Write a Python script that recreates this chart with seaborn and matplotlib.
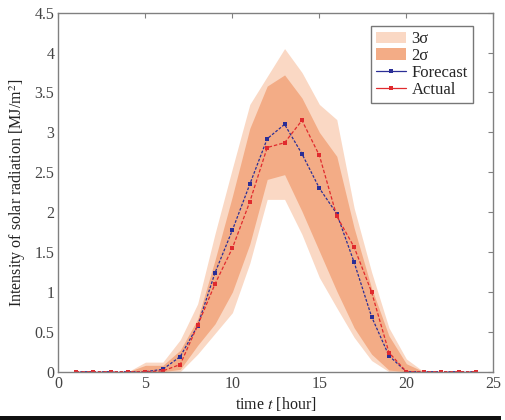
import numpy as np
import pandas as pd
import seaborn as sns
import matplotlib
matplotlib.use("Agg")
import matplotlib.pyplot as plt
from matplotlib.patches import Patch, Rectangle
from matplotlib.lines import Line2D

# ---- data ----
hours = list(range(1, 25))
forecast = [0, 0, 0, 0, 0, 0.03, 0.19, 0.575, 1.24, 1.775, 2.35, 2.92, 3.10, 2.73, 2.30, 1.98, 1.37, 0.69, 0.20, 0, 0, 0, 0, 0]
actual   = [0, 0, 0, 0, 0, 0.01, 0.09, 0.58, 1.10, 1.55, 2.13, 2.81, 2.87, 3.15, 2.71, 1.95, 1.56, 1.00, 0.24, 0, 0, 0, 0, 0]
s3_upper = [0, 0, 0, 0, 0.12, 0.12, 0.40, 0.85, 1.73, 2.55, 3.35, 3.70, 4.05, 3.75, 3.35, 3.16, 2.05, 1.25, 0.55, 0.16, 0, 0, 0, 0]
s2_upper = [0, 0, 0, 0, 0.08, 0.08, 0.27, 0.66, 1.40, 2.20, 3.05, 3.58, 3.72, 3.43, 3.00, 2.70, 1.80, 1.05, 0.45, 0.10, 0, 0, 0, 0]
s2_lower = [0, 0, 0, 0, 0, 0, 0.03, 0.33, 0.60, 1.00, 1.60, 2.41, 2.47, 2.01, 1.51, 1.01, 0.55, 0.22, 0.02, 0, 0, 0, 0, 0]
s3_lower = [0, 0, 0, 0, 0, 0, 0, 0.22, 0.48, 0.74, 1.36, 2.16, 2.16, 1.72, 1.18, 0.80, 0.43, 0.14, 0, 0, 0, 0, 0, 0]
legend_labels = ["3σ", "2σ", "Forecast", "Actual"]

df = pd.DataFrame({"hour": hours, "Forecast": forecast, "Actual": actual})

sns.set_style("white")
plt.rcParams["font.family"] = ["Liberation Serif", "DejaVu Serif"]
plt.rcParams["mathtext.fontset"] = "stix"

c_light = "#FAD8C4"
c_dark = "#F3AC86"
c_blue = "#2A2E96"
c_red = "#E02A2E"
c_frame = "#808080"

fig = plt.figure(figsize=(5.06, 4.20), dpi=100)
ax = fig.add_axes([0.1156, 0.115, 0.8593, 0.8548])

ax.fill_between(hours, s3_lower, s3_upper, color=c_light, linewidth=0)
ax.fill_between(hours, s2_lower, s2_upper, color=c_dark, linewidth=0)

sns.lineplot(data=df, x="hour", y="Forecast", ax=ax, color=c_blue, linewidth=0.9,
             marker="s", markersize=2.8, markeredgewidth=0, linestyle=(0, (2.2, 1.3)))
sns.lineplot(data=df, x="hour", y="Actual", ax=ax, color=c_red, linewidth=0.9,
             marker="s", markersize=2.8, markeredgewidth=0, linestyle=(0, (2.8, 1.6)))

ax.set_xlim(0, 25)
ax.set_ylim(0, 4.5)
ax.set_xticks([0, 5, 10, 15, 20, 25])
ax.set_yticks(np.arange(0, 4.51, 0.5))
ax.set_yticklabels(["0", "0.5", "1", "1.5", "2", "2.5", "3", "3.5", "4", "4.5"])
ax.tick_params(direction="in", length=3.5, width=0.8, color=c_frame, labelsize=11.5,
               labelcolor="#444444", top=True, right=True, pad=3)
for sp in ax.spines.values():
    sp.set_color(c_frame)
    sp.set_linewidth(1.0)

ax.set_xlabel("time $t$ [hour]", fontsize=11.5, color="#222222", labelpad=2)
ax.set_ylabel("Intensity of solar radiation [MJ/m$^2$]", fontsize=11.5, color="#222222", labelpad=5)

handles = [
    Patch(facecolor=c_light, edgecolor="none"),
    Patch(facecolor=c_dark, edgecolor="none"),
    Line2D([0], [0], color=c_blue, linewidth=0.9, marker="s", markersize=2.5, markeredgewidth=0),
    Line2D([0], [0], color=c_red, linewidth=0.9, marker="s", markersize=2.5, markeredgewidth=0),
]
leg = ax.legend(handles, legend_labels, loc="upper right", bbox_to_anchor=(0.953, 0.962),
                borderaxespad=0, fontsize=12, frameon=True, fancybox=False,
                handlelength=1.8, handleheight=0.7, handletextpad=0.35,
                labelspacing=0.05, borderpad=0.3)
leg.get_frame().set_edgecolor("#555555")
leg.get_frame().set_linewidth(1.0)

# dark scan bar along the bottom edge of the picture
fig.patches.append(Rectangle((0, 0), 0.99, 4 / 420, transform=fig.transFigure,
                             facecolor="#111111", edgecolor="none"))

fig.savefig("out.png", dpi=100)
